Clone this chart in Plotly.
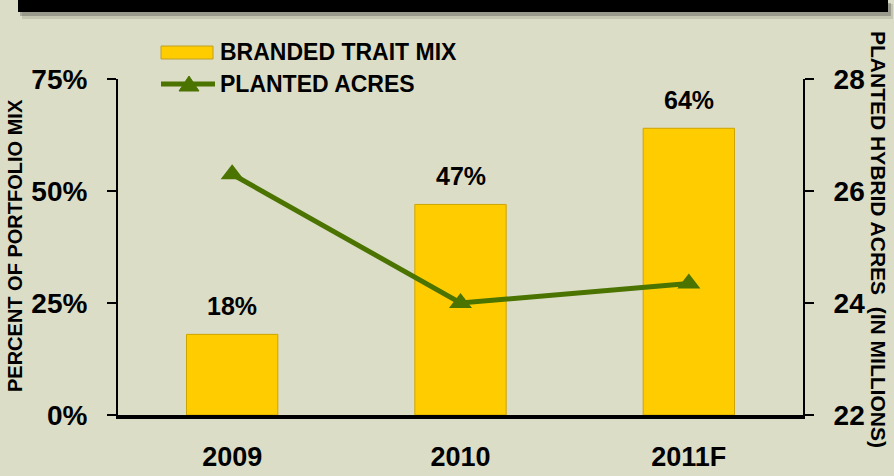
import plotly.graph_objects as go

# ---- data ----
years = ["2009", "2010", "2011F"]
trait_mix_pct = [18, 47, 64]
planted_acres_m = [26.3, 24.0, 24.35]
left_ticks = [0, 25, 50, 75]
left_tick_text = ["0%", "25%", "50%", "75%"]
right_ticks = [22, 24, 26, 28]

BG = "rgb(220,221,199)"
GOLD = "#ffcc00"
GREEN = "#4b7300"
FONT = "Liberation Sans, Arial, sans-serif"

# plot area in pixels (for paper-coordinate decorations)
L, R, T, B = 118, 803, 79, 415
W, H = R - L, B - T


def px(x):
    return (x - L) / W


def py(y):
    return (B - y) / H


def f(size):
    return dict(family=FONT, size=size, color="black", weight=700)


fig = go.Figure()
fig.add_trace(go.Bar(
    x=years, y=trait_mix_pct, name="BRANDED TRAIT MIX",
    marker=dict(color=GOLD, line=dict(color="rgb(205,165,0)", width=1)),
    width=0.4, showlegend=False, yaxis="y",
))
fig.add_trace(go.Scatter(
    x=years, y=planted_acres_m, name="PLANTED ACRES", mode="lines+markers",
    line=dict(color=GREEN, width=5),
    marker=dict(symbol="triangle-up", size=20, color=GREEN),
    showlegend=False, yaxis="y2",
))

# data labels on bars (category index positions)
for i, v in enumerate(trait_mix_pct):
    fig.add_annotation(x=i, y=v, xref="x", yref="y", text=f"{v}%",
                       showarrow=False, yanchor="bottom", yshift=12,
                       font=f(25))

shapes = []
# top black title band with shadow
shapes.append(dict(type="rect", xref="paper", yref="paper",
                   x0=px(22), x1=px(893), y0=py(19), y1=py(4),
                   fillcolor="rgba(0,0,0,0.10)", line=dict(width=0), layer="below"))
shapes.append(dict(type="rect", xref="paper", yref="paper",
                   x0=px(20), x1=px(891), y0=py(16), y1=py(3),
                   fillcolor="rgba(0,0,0,0.22)", line=dict(width=0), layer="below"))
shapes.append(dict(type="rect", xref="paper", yref="paper",
                   x0=px(18), x1=px(888), y0=py(12), y1=py(-2),
                   fillcolor="black", line=dict(width=0)))
# custom legend
shapes.append(dict(type="rect", xref="paper", yref="paper",
                   x0=px(161), x1=px(213), y0=py(59), y1=py(46),
                   fillcolor=GOLD, line=dict(color="rgb(190,160,40)", width=1)))
shapes.append(dict(type="line", xref="paper", yref="paper",
                   x0=px(161), x1=px(215), y0=py(84), y1=py(84),
                   line=dict(color=GREEN, width=5)))
shapes.append(dict(type="path", xref="paper", yref="paper",
                   path=f"M {px(179)},{py(91)} L {px(199)},{py(91)} L {px(189)},{py(76)} Z",
                   fillcolor=GREEN, line=dict(color=GREEN, width=1)))

fig.add_annotation(xref="paper", yref="paper", x=px(218), y=py(52),
                   xanchor="left", yanchor="middle", showarrow=False,
                   text="BRANDED TRAIT MIX", font=f(23))
fig.add_annotation(xref="paper", yref="paper", x=px(218), y=py(84),
                   xanchor="left", yanchor="middle", showarrow=False,
                   text="PLANTED ACRES", font=f(23))

# axis titles
fig.add_annotation(xref="paper", yref="paper", x=px(15), y=py(246),
                   xanchor="center", yanchor="middle", showarrow=False,
                   textangle=-90, text="PERCENT OF PORTFOLIO MIX", font=f(20))
fig.add_annotation(xref="paper", yref="paper", x=px(879), y=py(240),
                   xanchor="center", yanchor="middle", showarrow=False,
                   textangle=90, text="PLANTED HYBRID ACRES  (IN MILLIONS)",
                   font=f(21))

fig.update_layout(
    width=894, height=476,
    margin=dict(l=L, r=894 - R, t=T, b=476 - B, pad=0, autoexpand=False),
    paper_bgcolor=BG, plot_bgcolor=BG,
    font=dict(family=FONT, color="black"),
    shapes=shapes,
    bargap=0.6,
    xaxis=dict(type="category", range=[-0.5, 2.5], showgrid=False,
               automargin=False,
               showline=True, linecolor="black", linewidth=4,
               ticks="", ticklabelstandoff=15, tickfont=f(27)),
    yaxis=dict(range=[0, 75], tickvals=left_ticks, ticktext=left_tick_text,
               automargin=False,
               showgrid=False, zeroline=False, showline=True,
               linecolor="black", linewidth=2, ticks="outside", ticklen=9,
               tickwidth=2, tickcolor="black", ticklabelstandoff=14,
               tickfont=f(28)),
    yaxis2=dict(range=[22, 28], tickvals=right_ticks, overlaying="y",
                automargin=False,
                side="right", showgrid=False, zeroline=False, showline=True,
                linecolor="black", linewidth=2, ticks="outside", ticklen=9,
                tickwidth=2, tickcolor="black", ticklabelstandoff=14,
                tickfont=f(28)),
)

fig.write_html("out.html", config={"displayModeBar": False},
               post_script="document.body.style.margin='0';document.body.style.background='" + BG + "';")
